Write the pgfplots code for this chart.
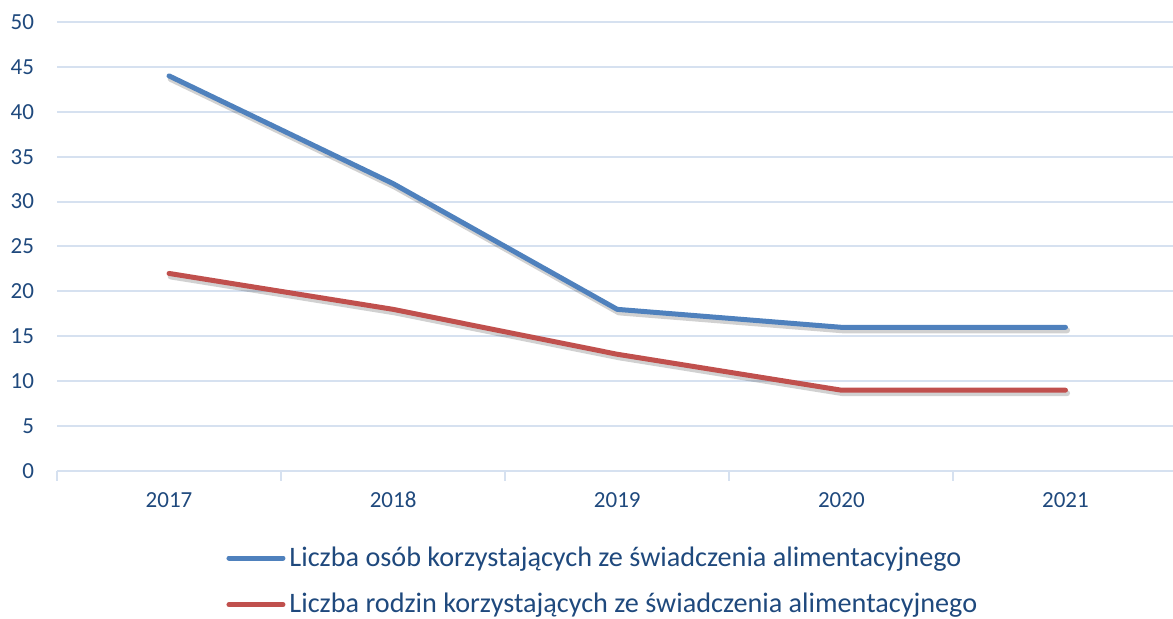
\documentclass[border=0pt]{standalone}
\usepackage{fontspec}
\setmainfont{Carlito}
\usepackage{pgfplots}
\pgfplotsset{compat=1.18}
\definecolor{txt}{HTML}{1F497D}
\definecolor{gridc}{HTML}{D6E1F0}
\definecolor{sblue}{HTML}{4F81BD}
\definecolor{sred}{HTML}{C0504D}
\begin{document}
\begin{tikzpicture}
\begin{axis}[
  at={(0,0)}, anchor=south west,
  scale only axis,
  width=558pt, height=224.5pt,
  xmin=-0.5, xmax=4.48,
  ymin=0, ymax=50,
  ytick={0,5,...,50},
  xtick={0,1,2,3,4},
  xticklabels={2017,2018,2019,2020,2021},
  minor xtick={-0.5,0.5,1.5,2.5,3.5,4.5},
  major tick length=0pt,
  minor tick length=5pt,
  tick align=outside,
  minor tick style={draw=gridc, line width=1pt},
  axis x line*=bottom,
  axis y line*=left,
  y axis line style={draw=none},
  x axis line style={draw=gridc, line width=1pt, -},
  xmajorgrids=false,
  xminorgrids=false,
  ymajorgrids=true,
  major grid style={draw=gridc, line width=1pt},
  ticklabel style={txt, font=\fontsize{11.5}{14}\selectfont},
  yticklabel style={xshift=-8pt},
  xticklabel style={yshift=-7pt, text height=1.6ex, text depth=0pt},
  /pgf/number format/assume math mode=true,
  legend style={at={(0.49,-0.15)}, anchor=north, draw=none, fill=none,
    font=\fontsize{14.1}{17}\selectfont\color{txt}, row sep=8pt,
    legend cell align=left},
  legend cell align=left,
  legend image code/.code={\draw[#1, line width=2.5pt, line cap=round] (0pt,0pt) -- (27pt,0pt);},
  clip=false,
]
\addplot[black, opacity=0.18, line width=3pt, line cap=round, line join=round, forget plot, transform canvas={xshift=0.8pt,yshift=-1.5pt}]
  coordinates {(0,44) (1,32) (2,18) (3,16) (4,16)};
\addplot[black, opacity=0.18, line width=3pt, line cap=round, line join=round, forget plot, transform canvas={xshift=0.8pt,yshift=-1.5pt}]
  coordinates {(0,22) (1,18) (2,13) (3,9) (4,9)};
\addplot[sblue, line width=2.5pt, line cap=round, line join=round]
  coordinates {(0,44) (1,32) (2,18) (3,16) (4,16)};
\addlegendentry{Liczba osób korzystających ze świadczenia alimentacyjnego}
\addplot[sred, line width=2.5pt, line cap=round, line join=round]
  coordinates {(0,22) (1,18) (2,13) (3,9) (4,9)};
\addlegendentry{Liczba rodzin korzystających ze świadczenia alimentacyjnego}
\end{axis}
\pgfresetboundingbox
\path[use as bounding box] (-28.5pt,-74pt) rectangle (558pt,235.5pt);
\end{tikzpicture}
\end{document}
